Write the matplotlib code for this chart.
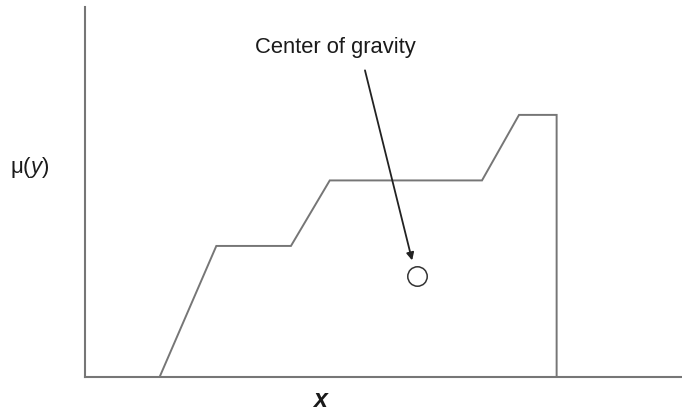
import matplotlib
matplotlib.use("Agg")
import matplotlib.pyplot as plt

plt.rcParams['font.family'] = ['Liberation Sans', 'DejaVu Sans']
plt.rcParams['mathtext.fontset'] = 'custom'
plt.rcParams['mathtext.rm'] = 'Liberation Sans'
plt.rcParams['mathtext.it'] = 'Liberation Sans:italic'

# membership function outline (x in arbitrary units 0..10, mu 0..1)
x_pts = [1.25, 2.2, 3.45, 4.1, 6.65, 7.27, 7.9, 7.9]
mu_pts = [0.0, 0.5, 0.5, 0.75, 0.75, 1.0, 1.0, 0.0]

# centre of gravity marker and arrow
cog = (5.56, 0.385)
arrow_tip = (5.48, 0.445)
arrow_tail = (4.69, 1.17)
label_pos = (4.2, 1.26)

line_col = '#767676'

fig = plt.figure(figsize=(6.82, 4.14), dpi=100)
ax = fig.add_axes([0.1246, 0.087, 0.8754, 0.894])

ax.plot(x_pts, mu_pts, color=line_col, lw=1.4, solid_joinstyle='miter')
ax.plot([cog[0]], [cog[1]], 'o', ms=14, mfc='white', mec='#333333', mew=1.1)

ax.annotate('', xy=arrow_tip, xytext=arrow_tail,
            arrowprops=dict(arrowstyle='-|>', color='#222222', lw=1.3,
                            mutation_scale=11, shrinkA=0, shrinkB=0))
ax.text(label_pos[0], label_pos[1], 'Center of gravity', ha='center', va='center',
        fontsize=15.8, color='#1a1a1a')

ax.set_xlim(0, 10)
ax.set_ylim(0, 370 / 262)
for s in ['top', 'right']:
    ax.spines[s].set_visible(False)
for s in ['left', 'bottom']:
    ax.spines[s].set_color(line_col)
    ax.spines[s].set_linewidth(1.5)
ax.set_xticks([])
ax.set_yticks([])

fig.text(30 / 682, 1 - 168 / 414, r'μ($\mathit{y}$)', ha='center', va='center',
         fontsize=16, color='#1a1a1a')
fig.text(320 / 682, 1 - 400 / 414, 'x', ha='center', va='center',
         fontsize=18, fontweight='bold', fontstyle='italic', color='#1a1a1a')

fig.savefig('out.png', dpi=100)
